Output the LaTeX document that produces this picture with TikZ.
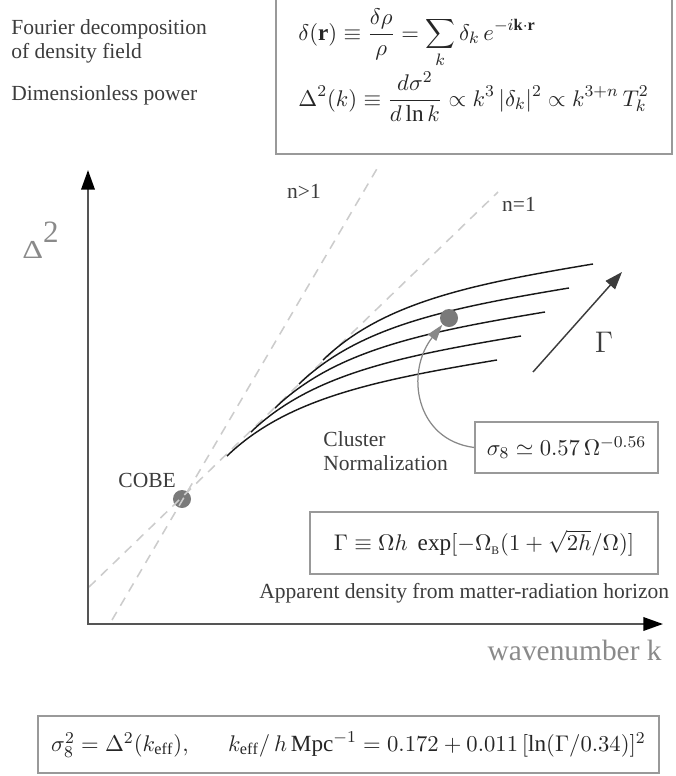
\documentclass[tikz,border=0pt]{standalone}
\usepackage{fontspec}
\setmainfont{Liberation Serif}
\usepackage{graphicx}
\usetikzlibrary{arrows.meta}
\definecolor{txt}{HTML}{3C3C3C}
\definecolor{axisc}{HTML}{555555}
\definecolor{dashc}{HTML}{CCCCCC}
\definecolor{boxc}{HTML}{999999}
\definecolor{dotc}{HTML}{7A7A7A}
\definecolor{lbl}{HTML}{8A8A8A}
\definecolor{garr}{HTML}{888888}
\newcommand{\pxu}{0.4831pt}
\begin{document}
\begin{tikzpicture}[x=0.4831pt,y=-0.4831pt,
  txtnode/.style={text=txt,inner sep=0pt,font=\fontsize{10.4}{12.5}\selectfont},
  mathnode/.style={text=black!85,inner sep=0pt,font=\fontsize{11.2}{13.5}\selectfont},
  fbox/.style={draw=boxc,line width=0.7pt,text=black!85,inner sep=0pt,font=\fontsize{11.2}{13.5}\selectfont},
  dashline/.style={draw=dashc,line width=0.75pt,dash pattern=on 4.5pt off 3.5pt},
  curvel/.style={draw=black!90,line width=0.7pt},
  dotn/.style={circle,fill=dotc,minimum size=8.7pt,inner sep=0pt},
  axisl/.style={draw=axisc,line width=1pt},
  garrow/.style={draw=txt,line width=0.7pt,-{Triangle[length=8.5pt,width=6pt]}},
  clarrow/.style={draw=garr,line width=0.6pt,-{Triangle[length=8pt,width=5pt]}},
]
\useasboundingbox (0,0) rectangle (675,776);

% top-left texts
\node[txtnode,anchor=base west] (t1) at (11,35) {Fourier decomposition};
\node[txtnode,anchor=base west] (t2) at (11,58) {of density field};
\node[txtnode,anchor=base west] (t3) at (11,100) {Dimensionless power};

% top box
\draw[draw=boxc,line width=0.7pt] (276,-10) rectangle (672,154);
\node[mathnode,anchor=base west] (f1) at (298,40)
  {$\displaystyle \delta(\mathbf{r})\equiv\frac{\delta\rho}{\rho}=\sum_k \delta_k\, e^{-i\mathbf{k}\cdot\mathbf{r}}$};
\node[mathnode,anchor=base west] (f2) at (298,106)
  {$\displaystyle \Delta^2(k)\equiv\frac{d\sigma^2}{d\ln k}\propto k^3\,|\delta_k|^2\propto k^{3+n}\,T_k^2$};

% dots (under dashed lines)
\node[dotn] (cobedot) at (182,499) {};

% dashed lines
\coordinate (nA1) at (112,620); \coordinate (nA2) at (378,167);
\coordinate (nB1) at (89,587);  \coordinate (nB2) at (498,192);
\draw[dashline] (nA1) -- (nA2);
\draw[dashline] (nB1) -- (nB2);
\node[txtnode] (ngt) at (304,191) {n>1};
\node[txtnode] (neq) at (519,204) {n=1};

% axes
\coordinate (O) at (88,624);
\coordinate (Ytip) at (88,170);
\coordinate (Xtip) at (663,624);
\draw[axisl,{Triangle[length=9.5pt,width=6.5pt,color=black]}-{Triangle[length=9.5pt,width=6.5pt,color=black]}] (Ytip) -- (O) -- (Xtip);

\node[anchor=base west,text=lbl,inner sep=0pt] (ylab) at (22,258)
  {\fontsize{12.5}{14}\selectfont\scalebox{1.25}[1]{Δ}\raisebox{7.4pt}{\fontsize{15}{18}\selectfont 2}};
\node[anchor=base east,text=lbl,inner sep=0pt,font=\fontsize{14.2}{17}\selectfont] (xlab) at (662,660) {wavenumber k};

% curves
\foreach \k in {0,...,4}{
  \draw[curvel,shift={(-24*\k,24*\k)}] (323,360) .. controls (383,302) and (473,284) .. (593,264);
}

% cluster normalization
\node[dotn] (cdot) at (449,318) {};
\node[fbox,minimum width=183*\pxu,minimum height=51*\pxu] (sbox) at (566.5,447.5)
  {$\sigma_8\simeq 0.57\,\Omega^{-0.56}$};
\draw[clarrow] (sbox.west) .. controls (415,440) and (405,372) .. (cdot.south west);
\node[txtnode,anchor=base west] (cl1) at (323,446) {Cluster};
\node[txtnode,anchor=base west] (cl2) at (323,470) {Normalization};

% Gamma arrow
\coordinate (g1) at (533,372);
\coordinate (g2) at (622,272);
\draw[garrow] (g1) -- (g2);
\node[text=txt,inner sep=0pt] (glab) at (604,342) {\fontsize{15.5}{18}\selectfont$\Gamma$};

% COBE
\node[txtnode,anchor=base west] (cobe) at (118,487) {COBE};

% Gamma box
\node[fbox,minimum width=348*\pxu,minimum height=62*\pxu] (gbox) at (484,543)
  {$\Gamma\equiv\Omega h\;\exp\bigl[-\Omega_{\scriptscriptstyle\mathrm{B}}(1+\sqrt{2h}/\Omega)\bigr]$};
\node[txtnode,anchor=base west] (app) at (259,598) {Apparent density from matter-radiation horizon};

% bottom box
\node[fbox,minimum width=621*\pxu,minimum height=57*\pxu] (bbox) at (348.5,744.5)
  {$\sigma_8^2=\Delta^2(k_{\mathrm{eff}}),\quad\;\; k_{\mathrm{eff}}/\,h\,\mathrm{Mpc}^{-1}=0.172+0.011\,[\ln(\Gamma/0.34)]^2$};
\end{tikzpicture}
\end{document}
